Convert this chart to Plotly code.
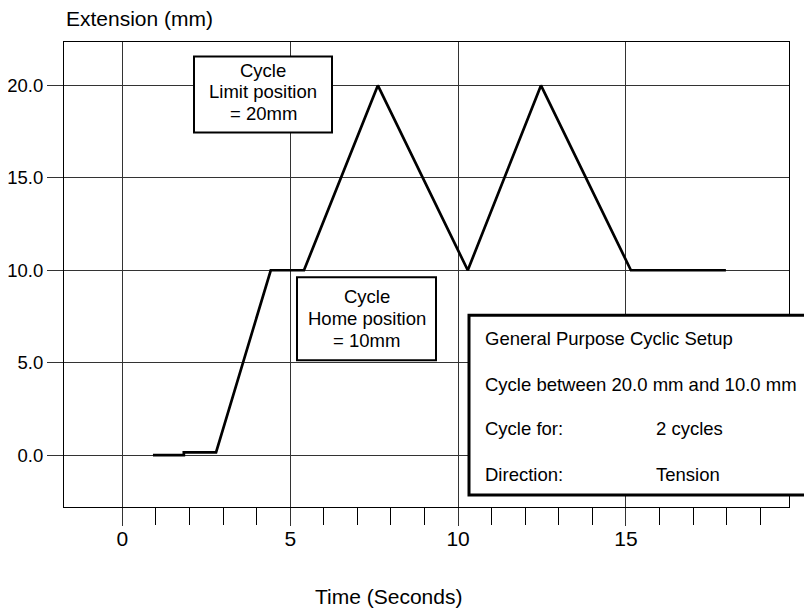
import plotly.graph_objects as go

# ---- data ----
time_s = [0.91, 1.83, 1.83, 2.79, 4.42, 5.41, 7.61, 10.29, 12.47, 15.15, 17.98]
extension_mm = [0.0, 0.0, 0.15, 0.15, 10.0, 10.0, 20.0, 10.0, 20.0, 10.0, 10.0]

x_major_ticks = [0, 5, 10, 15]
x_minor_ticks = [1, 2, 3, 4, 6, 7, 8, 9, 11, 12, 13, 14, 16, 17, 18, 19]
y_ticks = [0, 5, 10, 15, 20]
y_tick_labels = ["0.0", "5.0", "10.0", "15.0", "20.0"]

limit_box_lines = ["Cycle", "Limit position", "= 20mm"]
home_box_lines = ["Cycle", "Home position", "= 10mm"]
setup_left = ["General Purpose Cyclic Setup", "Cycle between 20.0 mm and 10.0 mm", "Cycle for:", "Direction:"]
setup_right = ["", "", "2 cycles", "Tension"]

# ---- layout geometry (pixels, in the 812x608 window; page body has an 8px margin) ----
OFF = 8
W, H = 812 - OFF, 608 - OFF
PL, PR, PT, PB = 64, 789, 41.5, 507      # plot rectangle in window pixels
L = PL - OFF
T = PT - OFF
R = W - (PR - OFF)
B = H - (PB - OFF)
PW, PH = PR - PL, PB - PT
FONT = "Liberation Sans, Arial, sans-serif"
GRID = "#333333"


def px(x):
    return (x - PL) / PW


def py(y):
    return (PB - y) / PH


fig = go.Figure()
fig.add_trace(go.Scatter(x=time_s, y=extension_mm, mode="lines",
                         line=dict(color="black", width=2.7), showlegend=False,
                         hoverinfo="skip"))

shapes = []
annotations = []


def box(x0, y0, x1, y1, w):
    shapes.append(dict(type="rect", xref="paper", yref="paper",
                       x0=px(x0), x1=px(x1), y0=py(y1), y1=py(y0),
                       fillcolor="white", line=dict(color="black", width=w),
                       layer="above"))


def text(t, x, y, anchor="center", size=18.5):
    annotations.append(dict(text=t, xref="paper", yref="paper", x=px(x), y=py(y),
                            xanchor=anchor, yanchor="middle", showarrow=False,
                            font=dict(family=FONT, size=size, color="black")))


box(194, 56, 332, 132, 2)
for i, t in enumerate(limit_box_lines):
    text(t, 263, 70 + i * 21.5)

box(297, 277, 436, 360, 2)
for i, t in enumerate(home_box_lines):
    text(t, 366.5, 296 + i * 22)

box(469, 315, 840, 495, 3)
rows_y = [338.5, 384.5, 428.5, 474.5]
for t, y in zip(setup_left, rows_y):
    text(t, 483, y, anchor="left")
for t, y in zip(setup_right, rows_y):
    if t:
        text(t, 654, y, anchor="left")

text("Extension (mm)", 64, 18, anchor="left", size=21)
text("Time (Seconds)", 388, 597, size=21)

fig.update_layout(
    width=W, height=H,
    margin=dict(l=L, r=R, t=T, b=B, pad=0, autoexpand=False),
    paper_bgcolor="white", plot_bgcolor="white",
    font=dict(family=FONT, size=21, color="black"),
    shapes=shapes, annotations=annotations,
    xaxis=dict(range=[-1.74, 19.86], tickmode="array", tickvals=x_major_ticks,
               ticks="outside", ticklen=18, tickwidth=1, tickcolor=GRID,
               showgrid=True, gridcolor=GRID, gridwidth=1,
               showline=True, linecolor="black", linewidth=1, mirror=True,
               zeroline=False, ticklabelstandoff=-5, automargin=False,
               tickfont=dict(family=FONT, size=21, color="black")),
    yaxis=dict(range=[-2.81, 22.35], tickmode="array", tickvals=y_ticks,
               ticktext=y_tick_labels, ticks="outside", ticklen=16, tickwidth=1,
               tickcolor=GRID,
               showgrid=True, gridcolor=GRID, gridwidth=1,
               showline=True, linecolor="black", linewidth=1, mirror=True,
               zeroline=False, ticklabelstandoff=0, automargin=False,
               tickfont=dict(family=FONT, size=18.5, color="black")),
)
fig.update_xaxes(minor=dict(tickmode="array", tickvals=x_minor_ticks, ticks="outside",
                            ticklen=17, tickwidth=1, tickcolor="black", showgrid=False))

fig.write_html("out.html")
